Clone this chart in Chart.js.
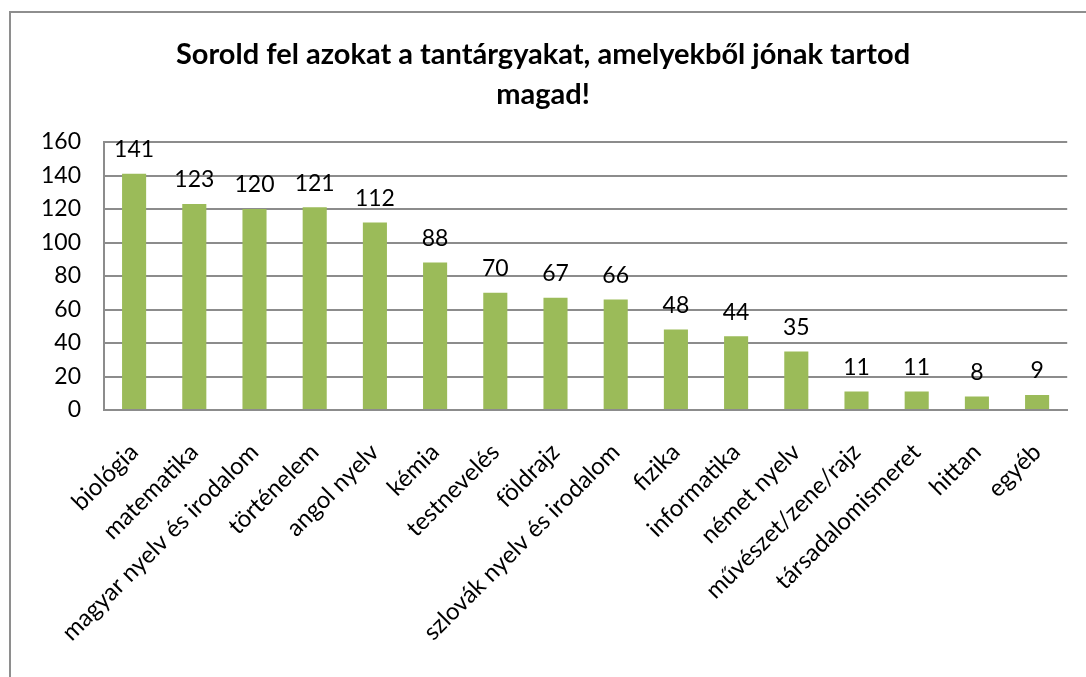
<!DOCTYPE html>
<html>
<head>
<meta charset="utf-8">
<script src="https://cdn.jsdelivr.net/npm/chart.js@4"></script>
<style>
  html, body { margin: 0; padding: 0; background: #fff; }
  #wrap { position: relative; width: 1086px; height: 677px; overflow: hidden; }
  #frame { position: absolute; left: 9px; top: 11px; width: 1200px; height: 800px;
           border: 2px solid #8e8e8e; box-sizing: border-box; }
  canvas { position: absolute; left: 0; top: 0; }
</style>
</head>
<body>
<div id="wrap">
  <div id="frame"></div>
  <canvas id="chart" width="1086" height="677"></canvas>
</div>
<script>
// Subject survey data
const subjects = [
  "biológia", "matematika", "magyar nyelv és irodalom", "történelem",
  "angol nyelv", "kémia", "testnevelés", "földrajz",
  "szlovák nyelv és irodalom", "fizika", "informatika", "német nyelv",
  "művészet/zene/rajz", "társadalomismeret", "hittan", "egyéb"
];
const counts = [141, 123, 120, 121, 112, 88, 70, 67, 66, 48, 44, 35, 11, 11, 8, 9];
const titleLines = ["Sorold fel azokat a tantárgyakat, amelyekből jónak tartod", "magad!"];

const FONT = "Lato, 'Open Sans', sans-serif";

// draws the number above each bar
const valueLabels = {
  id: "valueLabels",
  afterDatasetsDraw(chart) {
    const ctx = chart.ctx;
    const meta = chart.getDatasetMeta(0);
    ctx.save();
    ctx.font = "23px " + FONT;
    ctx.fillStyle = "#000";
    ctx.textAlign = "center";
    ctx.textBaseline = "middle";
    meta.data.forEach((bar, i) => {
      ctx.fillText(String(counts[i]), bar.x, bar.y - 24);
    });
    ctx.restore();
  }
};

new Chart(document.getElementById("chart"), {
  type: "bar",
  data: {
    labels: subjects,
    datasets: [{
      data: counts,
      backgroundColor: "#9bbb59",
      borderWidth: 0,
      barPercentage: 0.4,
      categoryPercentage: 1.0
    }]
  },
  options: {
    responsive: false,
    animation: false,
    layout: { padding: { left: 17, right: 17, top: 0, bottom: 0 } },
    plugins: {
      legend: { display: false },
      tooltip: { enabled: false },
      title: {
        display: true,
        text: titleLines,
        color: "#000",
        font: { family: FONT, size: 29, weight: "bold", lineHeight: 1.38 },
        padding: { top: 35, bottom: 27 }
      }
    },
    scales: {
      y: {
        min: 0,
        max: 160,
        ticks: { stepSize: 20, color: "#000", padding: 23, font: { family: FONT, size: 23 } },
        grid: { color: "#8c8c8c", lineWidth: 2, drawTicks: false },
        border: { color: "#8c8c8c", width: 2 },
        afterFit(scale) { scale.width = 87; }
      },
      x: {
        ticks: {
          color: "#000", minRotation: 45, maxRotation: 45, autoSkip: false,
          padding: 28, font: { family: FONT, size: 24 }
        },
        grid: { display: false, drawTicks: false },
        border: { color: "#8c8c8c", width: 2 },
        afterFit(scale) { scale.height = 267; }
      }
    }
  },
  plugins: [valueLabels]
});
</script>
</body>
</html>
